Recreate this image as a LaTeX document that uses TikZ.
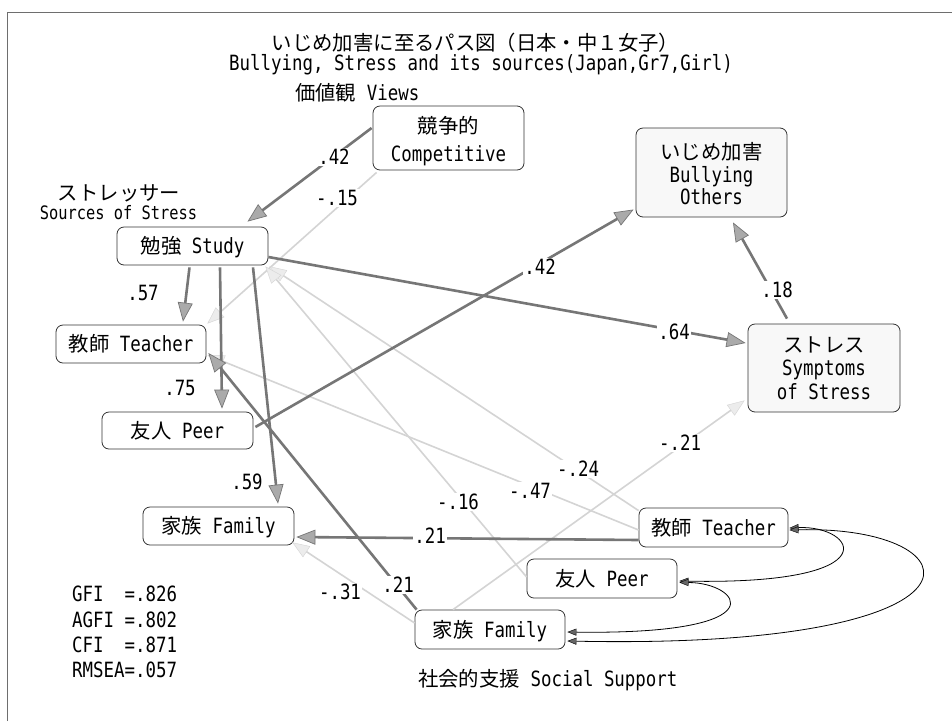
\documentclass[tikz,border=0pt]{standalone}
\usepackage{fontspec}
\setmainfont{DejaVu Sans Mono}[FakeStretch=0.83]
\newfontfamily\jp[Scale=0.97]{Noto Sans CJK JP}
\usetikzlibrary{arrows.meta,calc}
\definecolor{dline}{RGB}{118,118,118}
\definecolor{dhead}{RGB}{170,170,170}
\definecolor{lline}{RGB}{212,212,212}
\definecolor{lhead}{RGB}{236,236,236}
\definecolor{frm}{RGB}{110,110,110}
\definecolor{bfill}{RGB}{248,248,248}
\newcommand\fsz{\fontsize{21pt}{25pt}\selectfont}
\newcommand\fszs{\fontsize{18.5pt}{22pt}\selectfont}
\begin{document}
\begin{tikzpicture}[x=1pt,y=-1pt,font=\fsz,
  box/.style={draw=black!80,line width=0.8pt,rounded corners=7pt,minimum width=151pt,minimum height=38pt,inner sep=0pt,text height=15pt,text depth=0pt,fill=white},
  txt/.style={inner sep=0pt,anchor=base},
  lbl/.style={fill=white,inner sep=1.5pt},
  darr/.style={draw=dline,line width=2.6pt,-{Triangle[length=19pt,width=15pt,fill=dhead,line width=0.7pt]}},
  larr/.style={draw=lline,line width=1.6pt,-{Triangle[length=17pt,width=13pt,fill=lhead,line width=0.4pt]}},
  cov/.style={draw=black,line width=0.8pt,arrows={Triangle[length=9pt,width=7pt,fill=black!60,line width=0.4pt]-Triangle[length=9pt,width=7pt,fill=black!60,line width=0.4pt]}},
]
\useasboundingbox (0,0) rectangle (952,721);
\fill[white] (0,0) rectangle (952,721);
\draw[frm,line width=0.9pt] (7,721) -- (7,12.7) -- (952,12.7);

% titles and group labels
\node[txt] (title1) at (475.5,50.5) {\jp いじめ加害に至るパス図（日本・中１女子）};
\node[txt] (title2) at (481,70.5) {Bullying, Stress and its sources(Japan,Gr7,Girl)};
\node[txt,anchor=base west] (views) at (295,100.5) {{\jp 価値観}~Views};
\node[txt] (stressor) at (119,200.5) {\jp ストレッサー};
\node[txt,font=\fszs] (sources) at (118.5,219.5) {Sources of Stress};
\node[txt,anchor=base west] (social) at (418,686.5) {{\jp 社会的支援}~Social Support};

% fit indices
\node[txt,anchor=base west] (gfi) at (72,601.5) {GFI~~=.826};
\node[txt,anchor=base west] (agfi) at (72,627.5) {AGFI~=.802};
\node[txt,anchor=base west] (cfi) at (72,652.5) {CFI~~=.871};
\node[txt,anchor=base west] (rmsea) at (72,677.5) {RMSEA=.057};

% boxes
\node[box,minimum height=64pt] (comp) at (448.5,138) {};
\node[txt] (compjp) at (448.5,133.5) {\jp 競争的};
\node[txt] (compen) at (448.5,161.5) {Competitive};
\node[box,minimum height=89pt,fill=bfill] (bully) at (711.5,172.5) {};
\node[txt] (bullyjp) at (711.5,159.5) {\jp いじめ加害};
\node[txt] (bullyen1) at (711.5,182.5) {Bullying};
\node[txt] (bullyen2) at (711.5,204.5) {Others};
\node[box,minimum width=152pt,minimum height=88pt,fill=bfill] (stress) at (824,368) {};
\node[txt] (stressjp) at (824,352.5) {\jp ストレス};
\node[txt] (stressen1) at (824,375.5) {Symptoms};
\node[txt] (stressen2) at (824,399.5) {of Stress};
\node[box] (study) at (192.5,246) {{\jp 勉強}~Study};
\node[box,minimum width=150pt] (tstr) at (131,344) {{\jp 教師}~Teacher};
\node[box,minimum height=37pt] (pstr) at (177.5,430.5) {{\jp 友人}~Peer};
\node[box] (fstr) at (218.5,526) {{\jp 家族}~Family};
\node[box,minimum width=149pt,minimum height=39pt] (tsup) at (713.5,527.5) {{\jp 教師}~Teacher};
\node[box,minimum width=150pt,minimum height=39pt] (psup) at (602,578.5) {{\jp 友人}~Peer};
\node[box,minimum width=150pt,minimum height=39pt] (fsup) at (490,629.5) {{\jp 家族}~Family};

% light (negative) paths
\draw[larr] ($(comp.south west)+(4,2)$) -- ($(tstr.north east)+(1,-1)$);
\draw[larr] ($(tsup.north west)+(0,3)$) -- ($(study.south east)+(1,1)$);
\draw[larr] ($(tsup.west)+(0,2.5)$) -- ($(tstr.east)+(1,11)$);
\draw[larr] ($(psup.west)+(0,-1.5)$) -- ($(study.south east)+(-3,1)$);
\draw[larr] ($(fsup.north)+(-37,0)$) -- ($(stress.south west)+(-3,-12)$);
\draw[larr] ($(fsup.west)+(0,-6.5)$) -- ($(fstr.south east)+(-2,-3)$);

% dark (positive) paths
\draw[darr] ($(comp.west)+(-1,-10)$) -- ($(study.north)+(55,-5)$);
\draw[darr] ($(study.south)+(-3,2)$) -- ($(tstr.north)+(52,-3)$);
\draw[darr] ($(study.south)+(27.5,2)$) -- ($(pstr.north)+(44.5,-3)$);
\draw[darr] ($(study.south)+(60.5,2)$) -- ($(fstr.north)+(59.5,-3)$);
\draw[darr] ($(study.east)+(0,11)$) -- ($(stress.west)+(-2,-25)$);
\draw[darr] ($(pstr.east)+(2,-3.5)$) -- ($(bully.west)+(-2,37)$);
\draw[darr] ($(stress.north)+(-37,-5)$) -- ($(bully.south)+(21.5,5)$);
\draw[darr] ($(tsup.west)+(0,12.5)$) -- ($(fstr.east)+(2,11)$);
\draw[darr] ($(fsup.north west)+(2,0)$) -- ($(tstr.east)+(2,9)$);

% covariances
\draw[cov] ($(tsup.east)+(1,0.5)$) .. controls +(66,-3) and +(214,4) .. ($(psup.east)+(2,2.5)$);
\draw[cov] ($(tsup.east)+(1,2.5)$) .. controls +(190,-5) and +(443,9) .. ($(fsup.east)+(2,11.5)$);
\draw[cov] ($(psup.east)+(2,4)$) .. controls +(60,0) and +(215,3) .. ($(fsup.east)+(2,2.5)$);

% coefficients
\node[lbl] (c1) at (334,157) {.42};
\node[lbl] (c2) at (337,198) {-.15};
\node[lbl] (c3) at (143,293) {.57};
\node[lbl] (c4) at (180,388) {.75};
\node[lbl] (c5) at (247,482) {.59};
\node[lbl] (c6) at (674,332) {.64};
\node[lbl] (c7) at (540,267) {.42};
\node[lbl] (c8) at (777,290) {.18};
\node[lbl] (c9) at (430,536) {.21};
\node[lbl] (c10) at (398,585) {.21};
\node[lbl] (c11) at (578,469) {-.24};
\node[lbl] (c12) at (530,491) {-.47};
\node[lbl] (c13) at (458,502) {-.16};
\node[lbl] (c14) at (680,443) {-.21};
\node[lbl] (c15) at (340,592) {-.31};
\end{tikzpicture}
\end{document}
